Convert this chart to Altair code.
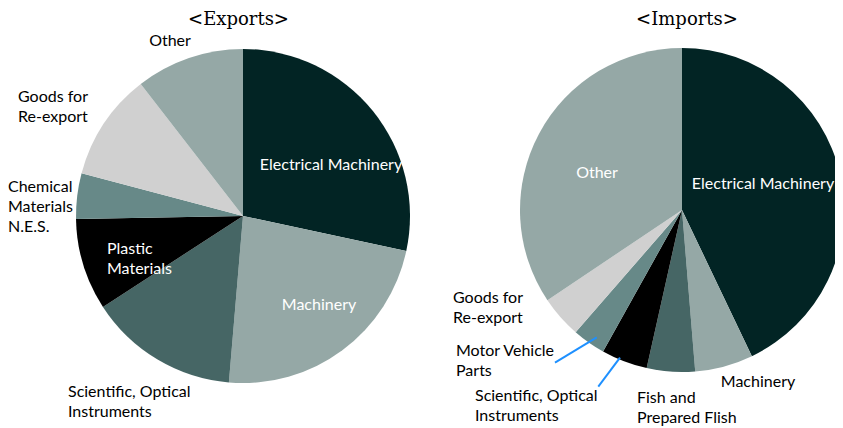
import altair as alt
import pandas as pd

# ---- data (percent shares) ----
export_categories = ["Electrical Machinery", "Machinery", "Scientific, Optical Instruments",
                     "Plastic Materials", "Chemical Materials N.E.S.", "Goods for Re-export", "Other"]
export_values = [28.4, 23.0, 14.5, 8.9, 4.4, 10.4, 10.5]

import_categories = ["Electrical Machinery", "Machinery", "Fish and Prepared Fish",
                     "Scientific, Optical Instruments", "Motor Vehicle Parts", "Goods for Re-export", "Other"]
import_values = [42.9, 5.8, 4.8, 4.6, 3.3, 4.2, 34.4]

# ---- styles ----
DARK = "#022424"
LIGHT_TEAL = "#95a8a6"
MID_DARK = "#466665"
MID = "#678988"
LIGHT_GRAY = "#d0d0d0"
BLACK = "#000000"
export_colors = [DARK, LIGHT_TEAL, MID_DARK, BLACK, MID, LIGHT_GRAY, LIGHT_TEAL]
import_colors = [DARK, LIGHT_TEAL, MID_DARK, BLACK, MID, LIGHT_GRAY, LIGHT_TEAL]

FONT = "Lato"
FS = 16

# label annotations: text, x, y (centre of first line), colour, alignment
labels = [
    ("Other", 162, 33, "black", "center"),
    ("Goods for\nRe-export", 10, 89, "black", "left"),
    ("Chemical\nMaterials\nN.E.S.", 0, 179, "black", "left"),
    ("Plastic\nMaterials", 99, 241, "white", "left"),
    ("Scientific, Optical\nInstruments", 60, 384, "black", "left"),
    ("Machinery", 311, 297, "white", "center"),
    ("Electrical Machinery", 323, 157, "white", "center"),
    ("Other", 589, 165, "white", "center"),
    ("Electrical Machinery", 755, 176, "white", "center"),
    ("Machinery", 750, 374, "black", "center"),
    ("Fish and\nPrepared Flish", 629, 390, "black", "left"),
    ("Scientific, Optical\nInstruments", 467, 388, "black", "left"),
    ("Motor Vehicle\nParts", 448, 343, "black", "left"),
    ("Goods for\nRe-export", 445, 290, "black", "left"),
]
leaders = [(588.7, 329.3, 547, 354.7), (612, 349.7, 590.3, 378.7)]
titles = [("<Exports>", 230.5, 17), ("<Imports>", 679, 17)]

exp_df = pd.DataFrame({"category": export_categories, "value": export_values,
                       "color": export_colors, "order": list(range(len(export_values)))})
imp_df = pd.DataFrame({"category": import_categories, "value": import_values,
                       "color": import_colors, "order": list(range(len(import_values)))})


def pie(df, cx, cy, r):
    return alt.Chart(df).mark_arc(outerRadius=r).encode(
        theta=alt.Theta("value:Q", stack=True),
        order=alt.Order("order:Q"),
        color=alt.Color("color:N", scale=None),
        x=alt.value(cx),
        y=alt.value(cy),
    )


pie_exp = pie(exp_df, 235, 208, 167)
pie_imp = pie(imp_df, 674, 202, 162)

lab_df = pd.DataFrame(labels, columns=["text", "x", "y", "color", "align"])
text_layers = []
for al in ["left", "center"]:
    text_layers.append(
        alt.Chart(lab_df[lab_df["align"] == al]).mark_text(
            align=al, baseline="middle", font=FONT, fontSize=FS, lineBreak="\n", lineHeight=20
        ).encode(
            x=alt.X("x:Q", scale=None),
            y=alt.Y("y:Q", scale=None),
            text="text:N",
            color=alt.Color("color:N", scale=None),
        )
    )

lead_df = pd.DataFrame(leaders, columns=["x", "y", "x2", "y2"])
lead = alt.Chart(lead_df).mark_rule(color="#1e90ff", strokeWidth=2).encode(
    x=alt.X("x:Q", scale=None), y=alt.Y("y:Q", scale=None),
    x2="x2:Q", y2="y2:Q",
)

tit_df = pd.DataFrame(titles, columns=["text", "x", "y"])
tit = alt.Chart(tit_df).mark_text(
    align="center", baseline="alphabetic", font="DejaVu Serif", fontSize=18, color="black"
).encode(x=alt.X("x:Q", scale=None), y=alt.Y("y:Q", scale=None), text="text:N")

chart = alt.layer(pie_exp, pie_imp, *text_layers, lead, tit).resolve_scale(
    theta="independent"
).properties(
    width=827, height=420, padding=0,
    autosize=alt.AutoSizeParams(type="none"),
).configure_view(stroke=None)

chart.save("out.html", embed_options={"renderer": "svg", "actions": False})
